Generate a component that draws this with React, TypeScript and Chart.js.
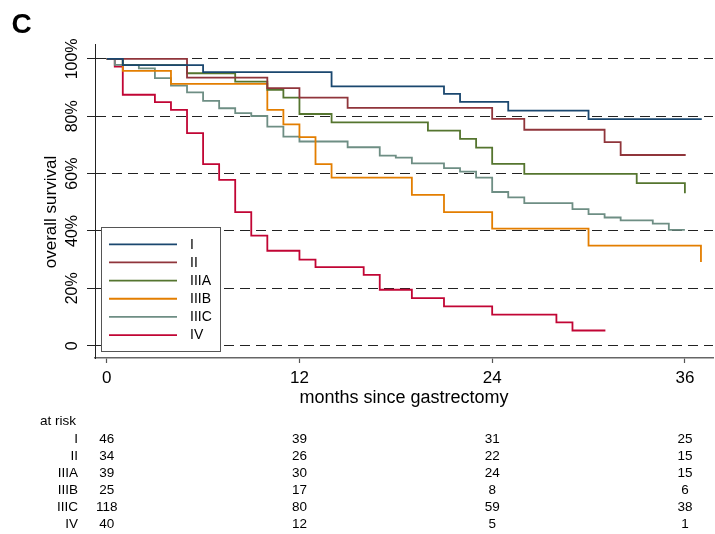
import React, { useEffect, useRef } from "react";
import { Chart, registerables } from "chart.js";

Chart.register(...registerables);

const FONT = '"Liberation Sans", Arial, Helvetica, sans-serif';

// Kaplan–Meier step data (months, % surviving)
const timesI = [0, 1, 6, 14, 21, 22, 25, 30, 37.05];
const survI = [100, 97.8, 95.4, 90.4, 87.8, 85.0, 82.0, 79.0, 79.0];

const timesII = [0, 5, 10, 12, 15, 24, 26, 31, 32, 36.05];
const survII = [100, 93.5, 89.8, 86.5, 82.9, 79.1, 75.3, 71.0, 66.5, 66.5];

const timesIIIA = [0, 1, 5, 8, 10, 11, 12, 14, 20, 22, 23, 24, 26, 33, 36];
const survIIIA = [100, 97.8, 95.0, 92.1, 89.2, 86.5, 80.8, 77.9, 75.0, 72.1, 69.1, 63.4, 59.9, 56.7, 53.2];

const timesIIIB = [0, 1, 4, 10, 11, 12, 13, 14, 19, 21, 24, 30, 37];
const survIIIB = [100, 95.8, 91.3, 82.2, 77.2, 72.7, 63.3, 58.6, 52.6, 46.6, 40.8, 34.9, 29.2];

const timesIIIC = [0, 0.5, 2, 3, 4, 5, 6, 7, 8, 9, 10, 11, 12, 15, 17, 18, 19, 21, 22, 23, 24, 25, 26, 29, 30, 31, 32, 34, 35, 36];
const survIIIC = [100, 97.9, 96.7, 93.3, 90.7, 88.3, 85.4, 82.8, 81.1, 80.1, 76.4, 72.9, 71.2, 69.2, 66.3, 65.6, 63.6, 61.9, 60.7, 58.6, 53.6, 51.7, 49.7, 47.6, 45.9, 44.7, 43.7, 42.6, 40.4, 40.4];

const timesIV = [0, 0.5, 1, 3, 4, 5, 6, 7, 8, 9, 10, 12, 13, 16, 17, 19, 21, 24, 28, 29, 31.05];
const survIV = [100, 97.3, 87.5, 84.9, 82.2, 74.1, 63.3, 57.8, 46.6, 38.4, 33.1, 30.0, 27.4, 24.7, 19.5, 16.6, 13.7, 10.8, 8.1, 5.3, 5.3];

const groupLabels = ["I", "II", "IIIA", "IIIB", "IIIC", "IV"];
const groupColors = ["#1a476f", "#90353b", "#55752f", "#e37e00", "#6e8e84", "#c10534"];

const xTicks = [0, 12, 24, 36];
const yTicks = [0, 20, 40, 60, 80, 100];
const yTickLabels = ["0", "20%", "40%", "60%", "80%", "100%"];

// Numbers at risk at the x ticks
const riskTimes = [0, 12, 24, 36];
const atRiskI = [46, 39, 31, 25];
const atRiskII = [34, 26, 22, 15];
const atRiskIIIA = [39, 30, 24, 15];
const atRiskIIIB = [25, 17, 8, 6];
const atRiskIIIC = [118, 80, 59, 38];
const atRiskIV = [40, 12, 5, 1];

const allTimes = [timesI, timesII, timesIIIA, timesIIIB, timesIIIC, timesIV];
const allSurv = [survI, survII, survIIIA, survIIIB, survIIIC, survIV];
const allRisk = [atRiskI, atRiskII, atRiskIIIA, atRiskIIIB, atRiskIIIC, atRiskIV];

const overlayPlugin = {
  id: "overlay",
  afterDraw(chart: any) {
    const ctx = chart.ctx;
    const xs = chart.scales.x;
    const ys = chart.scales.y;
    ctx.save();
    ctx.fillStyle = "#000";

    // panel letter
    ctx.font = `bold 28px ${FONT}`;
    ctx.textAlign = "left";
    ctx.textBaseline = "alphabetic";
    ctx.fillText("C", 11.5, 33.3);

    // y tick labels (rotated)
    ctx.font = `16px ${FONT}`;
    yTicks.forEach((v, i) => {
      const y = ys.getPixelForValue(v);
      ctx.save();
      ctx.translate(73, y);
      ctx.rotate(-Math.PI / 2);
      ctx.textAlign = "center";
      ctx.textBaseline = "middle";
      ctx.fillText(yTickLabels[i], 0, 0);
      ctx.restore();
    });

    // y title
    ctx.save();
    ctx.font = `17px ${FONT}`;
    ctx.translate(51, 212);
    ctx.rotate(-Math.PI / 2);
    ctx.textAlign = "center";
    ctx.textBaseline = "middle";
    ctx.fillText("overall survival", 0, 0);
    ctx.restore();

    // x title
    ctx.font = `18px ${FONT}`;
    ctx.textAlign = "center";
    ctx.textBaseline = "alphabetic";
    ctx.fillText("months since gastrectomy", (chart.chartArea.left + chart.chartArea.right) / 2, 403);

    // legend box
    ctx.fillStyle = "#fff";
    ctx.fillRect(101.5, 227.5, 119, 124);
    ctx.strokeStyle = "#555";
    ctx.lineWidth = 1;
    ctx.strokeRect(101.5, 227.5, 119, 124);
    ctx.font = `14px ${FONT}`;
    ctx.textAlign = "left";
    ctx.textBaseline = "middle";
    groupLabels.forEach((lab, i) => {
      const y = 244.3 + i * 18.15;
      ctx.strokeStyle = groupColors[i];
      ctx.lineWidth = 1.8;
      ctx.beginPath();
      ctx.moveTo(109, y);
      ctx.lineTo(177, y);
      ctx.stroke();
      ctx.fillStyle = "#000";
      ctx.fillText(lab, 190, y + 0.5);
    });

    // at-risk table
    ctx.font = `13.5px ${FONT}`;
    ctx.fillStyle = "#000";
    ctx.textBaseline = "middle";
    ctx.textAlign = "left";
    ctx.fillText("at risk", 40, 421);
    groupLabels.forEach((lab, i) => {
      const y = 439 + i * 17.15;
      ctx.textAlign = "right";
      ctx.fillText(lab, 78, y);
      ctx.textAlign = "center";
      riskTimes.forEach((t, j) => {
        ctx.fillText(String(allRisk[i][j]), xs.getPixelForValue(t), y);
      });
    });

    ctx.restore();
  },
};

export default function App() {
  const ref = useRef<HTMLCanvasElement | null>(null);
  useEffect(() => {
    document.body.style.margin = "0";
    const canvas = ref.current;
    if (!canvas) return;
    const chart = new Chart(canvas, {
      type: "line",
      data: {
        datasets: groupLabels.map((lab, i) => ({
          label: lab,
          data: allTimes[i].map((t, k) => ({ x: t, y: allSurv[i][k] })),
          borderColor: groupColors[i],
          backgroundColor: groupColors[i],
          borderWidth: 1.8,
          stepped: "before" as const,
          pointRadius: 0,
          fill: false,
        })),
      },
      options: {
        animation: false,
        responsive: false,
        devicePixelRatio: 1,
        layout: { padding: { top: 44, right: 2, left: 0, bottom: 0 } },
        plugins: { legend: { display: false }, tooltip: { enabled: false } },
        scales: {
          x: {
            type: "linear",
            min: -0.73,
            max: 37.75,
            afterBuildTicks: (s: any) => {
              s.ticks = xTicks.map((v) => ({ value: v }));
            },
            afterFit: (s: any) => {
              s.height = 176;
            },
            grid: {
              display: true,
              drawOnChartArea: false,
              drawTicks: true,
              tickLength: 5,
              tickColor: "#555",
              tickWidth: 1.2,
            },
            border: { display: true, color: "#666", width: 1.5 },
            ticks: {
              autoSkip: false,
              maxRotation: 0,
              padding: 5,
              color: "#000",
              font: { family: FONT, size: 17 },
              callback: (v: any) => String(v),
            },
          },
          y: {
            type: "linear",
            min: -4.29,
            max: 105.2,
            afterBuildTicks: (s: any) => {
              s.ticks = yTicks.map((v) => ({ value: v }));
            },
            afterFit: (s: any) => {
              s.width = 95;
            },
            grid: {
              display: true,
              drawOnChartArea: true,
              drawTicks: true,
              tickLength: 8,
              color: "#222",
              lineWidth: 1,
              tickColor: "#222",
              tickWidth: 1,
            },
            border: { display: true, color: "#222", width: 1, dash: [10, 6] },
            ticks: { display: false },
          },
        },
      },
      plugins: [overlayPlugin],
    });
    return () => chart.destroy();
  }, []);
  return (
    <div style={{ width: 715, height: 534 }}>
      <canvas ref={ref} width={715} height={534} style={{ display: "block" }} />
    </div>
  );
}
